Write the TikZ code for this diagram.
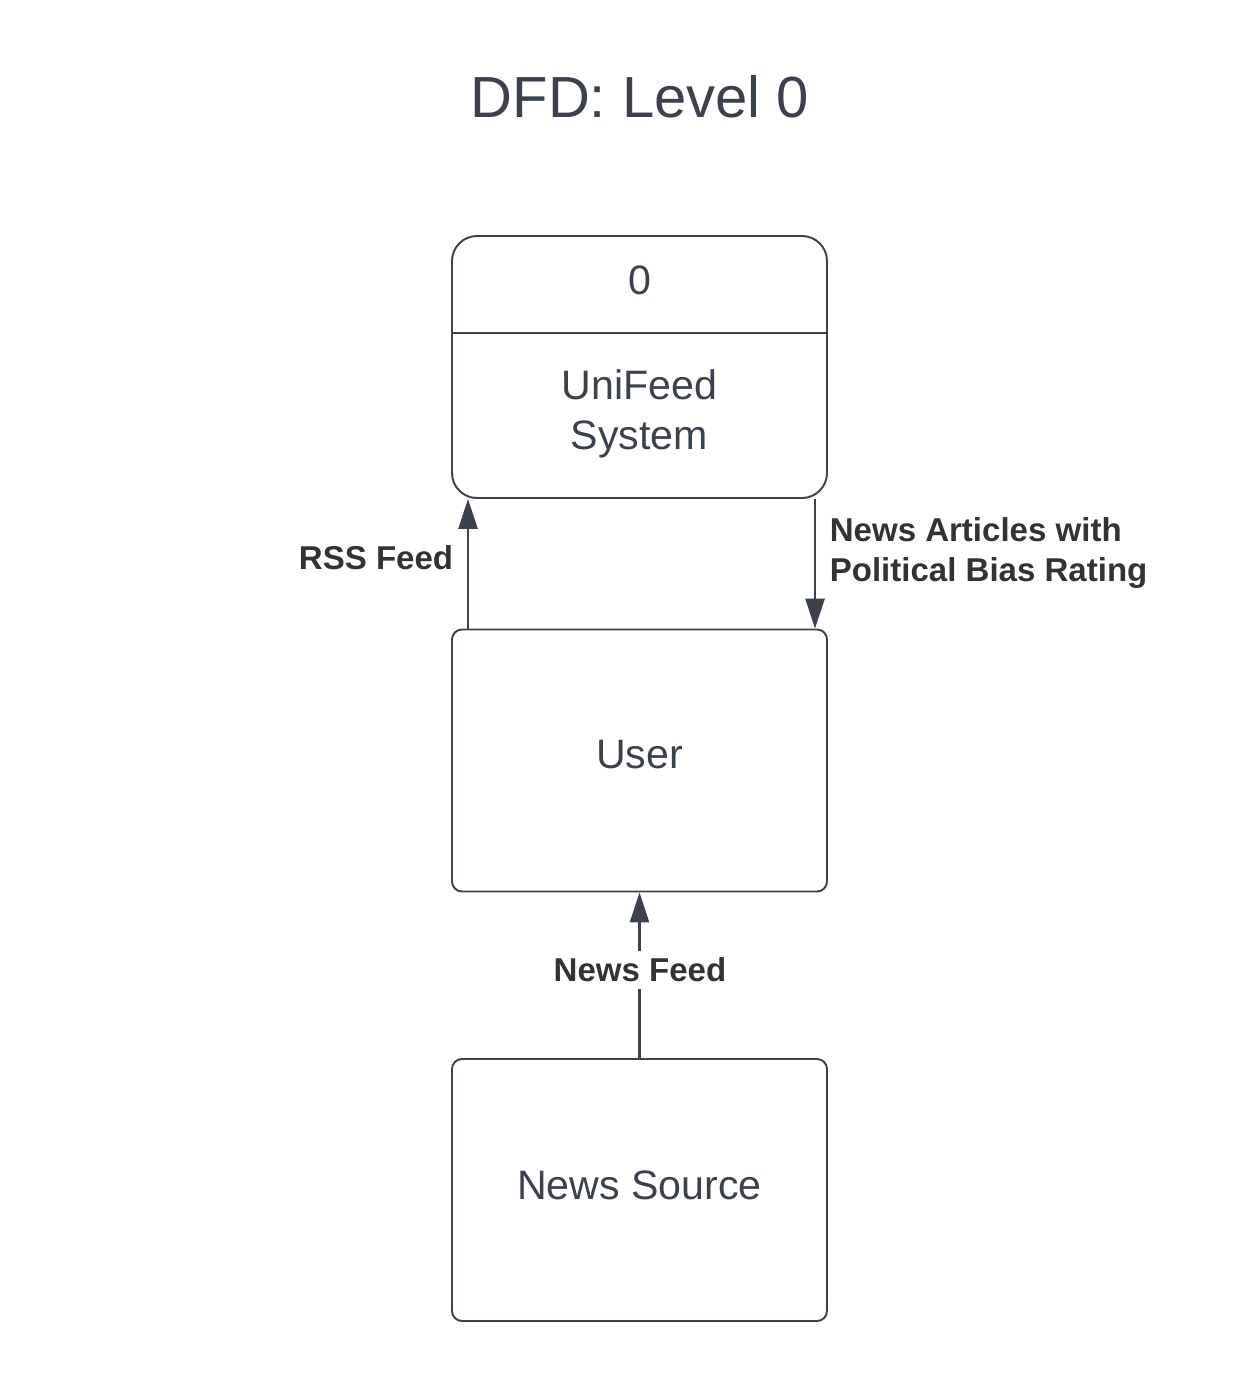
\documentclass[tikz,border=0pt]{standalone}
\usepackage{fontspec}
\setmainfont{Liberation Sans}
\usetikzlibrary{arrows.meta}
\definecolor{ink}{RGB}{60,66,77}
\definecolor{lbl}{RGB}{51,51,51}

\begin{document}
\begin{tikzpicture}[x=0.2mm, y=-0.2mm, line width=1.1pt, draw=ink,
  entity/.style={draw=ink, rounded corners=2mm, minimum width=75mm, minimum height=52.4mm, inner sep=0pt},
  procbox/.style={draw=ink, rounded corners=5mm, minimum width=75mm, minimum height=52.4mm, inner sep=0pt},
  big/.style={text=ink, font=\fontsize{23.4}{28.5}\selectfont},
  flowlbl/.style={text=lbl, font=\fontsize{18.8}{22.8}\selectfont\bfseries},
  flow/.style={draw=ink, line width=1.6pt, -{Triangle[length=6mm, width=3.8mm]}}]
  % page frame
  \useasboundingbox (0,0) rectangle (1260,1374);
  \node[text=ink, font=\fontsize{33}{40}\selectfont] (title) at (640,97) {DFD: Level 0};

  % process 0
  \node[procbox] (sys) at (639.5,367) {};
  \coordinate (divy) at (0,333);
  \draw (sys.west |- divy) -- (sys.east |- divy);
  \node[big] (sysid) at (639.5,280) {0};
  \node[big, align=center] (sysname) at (639.5,414) {UniFeed\\System};

  % external entities
  \node[entity] (user) at (639.5,760.5) {};
  \node[big] (username) at (639.5,755) {User};
  \node[entity] (src) at (639.5,1190) {};
  \node[big] (srcname) at (639.5,1185) {News Source};

  % flows
  \coordinate (rssx) at (468,0);
  \coordinate (artx) at (815,0);
  \draw[flow] (user.north -| rssx) -- (sys.south -| rssx);
  \draw[flow] (sys.south -| artx) -- (user.north -| artx);
  \draw[flow] (src.north) -- (user.south);

  \node[flowlbl, anchor=east] (rsslbl) at (460,558) {RSS Feed};
  \node[flowlbl, anchor=west, align=left] (artlbl) at (823,553) {News Articles with\\Political Bias Rating};
  \node[flowlbl, fill=white, inner sep=4pt] (feedlbl) at (640,970) {News Feed};
\end{tikzpicture}
\end{document}
